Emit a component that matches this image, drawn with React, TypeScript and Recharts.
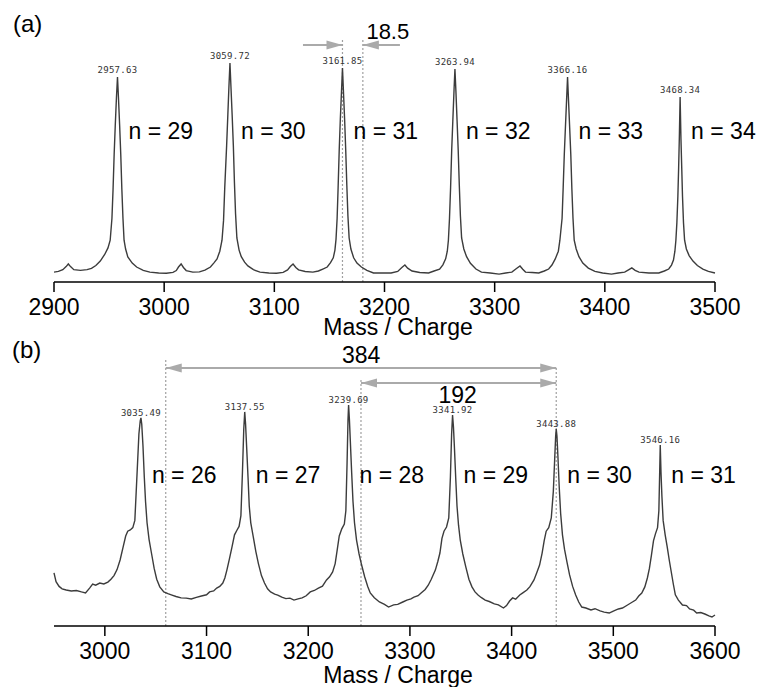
import { LineChart, Line, XAxis, YAxis, ReferenceLine, ReferenceDot } from "recharts";

const FONT = "'Liberation Sans', Arial, Helvetica, sans-serif";
const TRACE = "#3c3c3c";
const GUIDE = "#a0a0a0";
const ARROW = "#aaaaaa";

// (a) spectrum, mass/charge vs intensity
const topSpectrum: [number, number][] = [
  [2900, 4.5], [2904, 4.8], [2908, 5.6], [2911, 7.0], [2913, 8.2], [2915, 7.0], [2918, 5.6],
  [2924, 5.3], [2930, 5.6], [2934, 6.2], [2938, 7.5], [2942, 9.5], [2946, 12.5], [2949, 15.5],
  [2951, 19], [2952.6, 29], [2953.6, 42], [2954.6, 58], [2955.6, 71], [2956.7, 84], [2957.63, 93.2],
  [2958.5, 84], [2959.6, 71], [2960.6, 58], [2961.6, 42], [2962.6, 29], [2963.6, 19], [2965, 15],
  [2967, 11.4], [2971, 8.6], [2975, 6.8], [2981, 5.3], [2987, 4.5], [2995, 4.1], [3002, 4.0],
  [3008, 4.4], [3011, 5.2], [3013, 6.8], [3015.4, 8.2], [3017.5, 6.6], [3020, 5.2], [3026, 4.5],
  [3032, 4.6], [3037, 5.4], [3042, 6.8], [3045, 8.6], [3048, 10.5], [3050.5, 14], [3052.5, 19],
  [3053.9, 28], [3055, 43], [3056.7, 62], [3057.8, 76], [3058.8, 89], [3059.72, 99.5], [3060.6, 89],
  [3061.7, 76], [3062.8, 62], [3063.8, 45], [3064.8, 31], [3066, 20], [3068, 14.5], [3070, 11.5],
  [3073, 9], [3076, 7.3], [3081, 5.6], [3087, 4.5], [3095, 4.1], [3102, 4.0], [3108, 4.4],
  [3112, 5.5], [3114.5, 7.0], [3117, 8.2], [3119.5, 6.6], [3122, 5.5], [3128, 4.8], [3135, 4.5],
  [3140, 5.0], [3144, 5.9], [3148, 6.8], [3151, 8.8], [3153.5, 11], [3155, 14.5], [3156, 19.5],
  [3157, 29], [3157.9, 43], [3158.9, 60], [3159.9, 74], [3161, 87], [3161.85, 97.3], [3162.7, 87],
  [3163.8, 74], [3164.8, 60], [3165.8, 44], [3166.8, 30], [3167.9, 20], [3169.5, 15], [3172, 11],
  [3175, 8.6], [3179, 6.8], [3184, 5.3], [3190, 4.1], [3198, 4.1], [3206, 4.1], [3212, 4.8],
  [3215.5, 6.5], [3218.5, 7.7], [3221, 6.3], [3225, 5.0], [3232, 4.3], [3240, 4.1], [3245, 5.0],
  [3250, 5.8], [3253, 7.8], [3255.5, 10.5], [3257, 14], [3258, 19], [3259, 29], [3260, 43],
  [3261, 60], [3262, 73], [3263.1, 87], [3263.94, 96.8], [3264.8, 87], [3265.9, 73], [3266.9, 60],
  [3267.9, 44], [3268.9, 30], [3270, 20], [3272, 15], [3274.5, 11.5], [3278, 8.5], [3283, 5.9],
  [3288, 4.5], [3296, 4.1], [3304, 3.6], [3310, 4.1], [3315.6, 4.5], [3319.5, 6.0], [3323, 7.3],
  [3325.5, 5.8], [3328, 4.5], [3334, 4.3], [3340, 4.1], [3345, 5.0], [3349, 5.9], [3352, 7.7],
  [3355, 10.5], [3357.8, 14], [3359.2, 19], [3361.2, 29], [3362.2, 43], [3363.2, 58], [3364.2, 70],
  [3365.3, 83], [3366.16, 93.2], [3367, 83], [3368.1, 70], [3369.1, 58], [3370.1, 42], [3371.1, 29],
  [3372.2, 19], [3374, 15], [3376.5, 11.5], [3380, 8.6], [3385, 6.3], [3391, 4.8], [3398, 4.1],
  [3406, 3.6], [3412, 4.1], [3418, 4.5], [3421.5, 5.5], [3424.5, 6.4], [3427.5, 5.3], [3431, 4.5],
  [3440, 4.1], [3449, 4.1], [3454, 5.0], [3458, 5.9], [3460.5, 7.7], [3462.3, 10], [3463.6, 14],
  [3464.5, 19], [3465.4, 27], [3466.3, 39], [3467, 52], [3467.6, 65], [3468.34, 84.1], [3469.1, 65],
  [3469.8, 52], [3470.5, 39], [3471.4, 27], [3472.4, 19], [3474, 15], [3476.5, 12], [3480, 9.5],
  [3484, 7.5], [3489, 5.9], [3494, 4.8], [3500, 4.1],
];
const topPeaks = [2957.63, 3059.72, 3161.85, 3263.94, 3366.16, 3468.34];
const topPeakHeights = [93.2, 99.5, 97.3, 96.8, 93.2, 84.1];
const topCharges = [29, 30, 31, 32, 33, 34];
const topTicks = [2900, 3000, 3100, 3200, 3300, 3400, 3500];

// (b) spectrum
const bottomSpectrum: [number, number][] = [
  [2950, 22.1], [2952, 18.5], [2955, 16.5], [2958, 15.5], [2962, 15], [2967, 14.6], [2972, 14.8],
  [2977, 14.2], [2981, 13.8], [2985, 15.8], [2988, 17.5], [2991, 17.0], [2995, 17.9], [2999, 17.5],
  [3003, 18.3], [3006, 19.5], [3009, 21], [3012, 23.5], [3015, 27.5], [3018, 33], [3020.5, 37.5],
  [3022.5, 39.5], [3025, 40], [3027.5, 41], [3029.5, 44], [3031.5, 62], [3033.5, 80], [3034.8, 85.5],
  [3035.49, 86.7], [3036.3, 84], [3037.5, 75], [3038.8, 62], [3040, 52], [3041.5, 43], [3043.5, 36],
  [3046, 30], [3048.5, 24], [3051, 19.5], [3054, 16.3], [3058, 14.2], [3062, 13.5], [3066, 12.9],
  [3070, 12.3], [3075, 11.7], [3080, 11.6], [3085, 11.25], [3090, 11.9], [3095, 12.5], [3100, 13],
  [3103, 14.2], [3107, 14.6], [3110, 15.8], [3113, 16.5], [3116, 17.9], [3118, 20], [3120, 23.3],
  [3122.5, 28], [3125, 32.9], [3127.5, 38], [3130, 40], [3132, 41.5], [3133.8, 46], [3135.3, 64],
  [3136.6, 82], [3137.55, 89.2], [3138.4, 84], [3139.5, 74], [3140.8, 62], [3142, 50], [3143.5, 43],
  [3146, 37], [3148.5, 31], [3151, 26], [3154, 21], [3157, 17.9], [3160, 15.5], [3163, 14.2],
  [3167, 13.3], [3170, 12.9], [3174, 12], [3178, 11.4], [3182, 11.6], [3186, 10.8], [3190, 11.3],
  [3194, 11.7], [3198, 12.6], [3202, 14.2], [3206, 14.8], [3210, 15.8], [3214, 16.6], [3218, 19.2],
  [3221, 20.5], [3224, 22.5], [3226.5, 26], [3228.5, 31.7], [3230.5, 37.5], [3233, 40.5],
  [3235.5, 42.5], [3237, 48], [3238.2, 68], [3239.1, 85.8], [3239.69, 92.1], [3240.5, 86],
  [3241.5, 76], [3242.7, 64], [3244, 52], [3245.5, 43], [3247.5, 35.8], [3250, 30], [3252.5, 25.4],
  [3255.5, 20.5], [3258.5, 16.5], [3261, 13.75], [3265, 11.8], [3270, 10], [3275, 9], [3279, 7.9],
  [3284, 8.8], [3288, 9], [3293, 10], [3297, 10.8], [3301, 11.3], [3304, 12], [3308, 12.6],
  [3311, 13.75], [3315, 15.2], [3318, 17], [3321, 19.5], [3325, 23.3], [3327.5, 27], [3329.5, 30.4],
  [3331.5, 36.5], [3333.5, 39.5], [3336, 41.25], [3338.2, 45], [3339.8, 62], [3341, 80],
  [3341.92, 87.9], [3342.8, 83], [3343.8, 74], [3345, 62], [3346.3, 50], [3347.8, 42], [3349.5, 35.8],
  [3352, 30], [3355, 24.5], [3358, 19.5], [3361, 16.3], [3364, 14.2], [3367, 12.9], [3370, 11.9],
  [3374, 10.8], [3378, 10.2], [3383, 9.2], [3387, 8.8], [3392, 7.5], [3395, 8.5], [3398, 10.4],
  [3401, 11.7], [3404, 11.2], [3408, 12.9], [3411, 13.8], [3415, 15], [3418, 16.4], [3422, 19.2],
  [3425, 22.5], [3427.5, 25.4], [3430, 30.4], [3432, 35.5], [3434, 39.5], [3436.5, 41], [3439, 45],
  [3441, 56], [3442.4, 70], [3443.3, 79], [3443.88, 82.1], [3444.6, 79], [3445.6, 70], [3446.8, 58],
  [3448.2, 47], [3450, 38], [3452, 32], [3454.5, 26.5], [3457, 21.3], [3460, 16.5], [3463, 12.9],
  [3466, 10], [3469, 7.9], [3473, 7.5], [3478, 6.7], [3482, 7.2], [3487, 6.3], [3491, 5.8],
  [3496, 5.4], [3500, 6.2], [3505, 7.1], [3509, 7.5], [3514, 8.75], [3518, 9.8], [3522, 10.8],
  [3525, 12.5], [3528, 13.75], [3531, 16.3], [3533.5, 20], [3535.5, 24], [3537.5, 29.5],
  [3539.5, 35.5], [3541.5, 38.5], [3543.5, 41], [3544.8, 48], [3545.5, 62], [3546.16, 75.4],
  [3546.9, 64], [3547.8, 54], [3549, 44], [3551, 38], [3553, 33], [3555, 27.5], [3557, 22.5],
  [3559, 17.5], [3561, 13], [3564, 10.8], [3568, 8.75], [3572, 8.5], [3575, 7.1], [3579, 6.6],
  [3582, 5.4], [3586, 5.6], [3590, 5.0], [3594, 4.2], [3597, 3.75], [3600, 4.6],
];
const bottomPeaks = [3035.49, 3137.55, 3239.69, 3341.92, 3443.88, 3546.16];
const bottomPeakHeights = [86.7, 89.2, 92.1, 87.9, 82.1, 75.4];
const bottomCharges = [26, 27, 28, 29, 30, 31];
const bottomTicks = [3000, 3100, 3200, 3300, 3400, 3500, 3600];

const toRows = (pts: [number, number][]) => pts.map(([mz, v]) => ({ mz, v }));

// text drawn at a reference dot, with a pixel nudge
const textLabel =
  (text: string, opts: { dx?: number; dy?: number; size?: number; anchor?: string; mono?: boolean }) =>
  (props: any) => {
    const vb = props.viewBox || {};
    return (
      <text
        x={(vb.x ?? 0) + (opts.dx ?? 0)}
        y={(vb.y ?? 0) + (opts.dy ?? 0)}
        textAnchor={opts.anchor ?? "start"}
        fontSize={opts.size ?? 23}
        fontFamily={opts.mono ? "'DejaVu Sans Mono', monospace" : FONT}
        letterSpacing={opts.mono ? 0.3 : 0}
        fill={opts.mono ? "#333" : "#000"}
      >
        {text}
      </text>
    );
  };

const arrowHead = (x: number, y: number, dir: number) => {
  const b = x - dir * 16;
  return <polygon points={`${x},${y} ${b},${y - 4.5} ${b},${y + 4.5}`} fill={ARROW} />;
};

const arrowShape = (both: boolean) => (p: any) => {
  const { x1, y1, x2, y2 } = p;
  const dir = x2 > x1 ? 1 : -1;
  return (
    <g>
      <line x1={x1} y1={y1} x2={x2} y2={y2} stroke={ARROW} strokeWidth={2} />
      {arrowHead(x2, y2, dir)}
      {both && arrowHead(x1, y1, -dir)}
    </g>
  );
};

// axis title sits a fixed distance below the axis line
const axisTitle = (props: any) => {
  const vb = props.viewBox;
  return (
    <text
      x={vb.x + vb.width / 2 + 13.5}
      y={vb.y + 53}
      textAnchor="middle"
      fontSize={23}
      fontFamily={FONT}
      fill="#000"
    >
      Mass / Charge
    </text>
  );
};

const tickStyle = { fill: "#000", fontSize: 23, fontFamily: FONT };

export default function App() {
  return (
    <div
      style={{
        position: "absolute",
        left: 0,
        top: 0,
        width: 762,
        height: 687,
        background: "#fff",
        fontFamily: FONT,
        overflow: "hidden",
      }}
    >
      <div style={{ position: "absolute", left: 13, top: 12, fontSize: 24, lineHeight: 1 }}>(a)</div>
      <div style={{ position: "absolute", left: 12, top: 338, fontSize: 24, lineHeight: 1 }}>(b)</div>

      <div style={{ position: "absolute", left: 0, top: 0 }}>
        <LineChart
          width={762}
          height={346}
          data={toRows(topSpectrum)}
          margin={{ top: 18, right: 47, bottom: 0, left: 54 }}
        >
          <XAxis
            dataKey="mz"
            type="number"
            domain={[2900, 3500]}
            ticks={topTicks}
            height={64}
            tickSize={10}
            tickMargin={7}
            tick={tickStyle}
            axisLine={{ stroke: "#000", strokeWidth: 1.5 }}
            tickLine={{ stroke: "#000", strokeWidth: 1.5 }}
            label={axisTitle}
          />
          <YAxis hide width={0} type="number" domain={[0, 120]} />
          <ReferenceLine
            segment={[{ x: 3161.85, y: 0 }, { x: 3161.85, y: 110.9 }]}
            stroke={GUIDE}
            strokeDasharray="2 2"
            strokeWidth={1.2}
          />
          <ReferenceLine
            segment={[{ x: 3180.35, y: 0 }, { x: 3180.35, y: 110.9 }]}
            stroke={GUIDE}
            strokeDasharray="2 2"
            strokeWidth={1.2}
          />
          <ReferenceLine segment={[{ x: 3126, y: 107.7 }, { x: 3161.85, y: 107.7 }]} shape={arrowShape(false)} />
          <ReferenceLine segment={[{ x: 3214, y: 107.7 }, { x: 3180.35, y: 107.7 }]} shape={arrowShape(false)} />
          <ReferenceDot x={3203} y={110.5} r={0} fill="none" stroke="none" label={textLabel("18.5", { anchor: "middle", size: 22 })} />
          <Line
            dataKey="v"
            type="linear"
            stroke={TRACE}
            strokeWidth={1.4}
            dot={false}
            isAnimationActive={false}
          />
          {topPeaks.map((p, i) => (
            <ReferenceDot
              key={`tp${p}`}
              x={p}
              y={topPeakHeights[i]}
              r={0}
              fill="none"
              stroke="none"
              label={textLabel(p.toFixed(2), { anchor: "middle", dy: -4, size: 9, mono: true })}
            />
          ))}
          {topPeaks.map((p, i) => (
            <ReferenceDot
              key={`tn${p}`}
              x={p}
              y={65}
              r={0}
              fill="none"
              stroke="none"
              label={textLabel(`n = ${topCharges[i]}`, { dx: 11 })}
            />
          ))}
        </LineChart>
      </div>

      <div style={{ position: "absolute", left: 0, top: 330 }}>
        <LineChart
          width={762}
          height={357}
          data={toRows(bottomSpectrum)}
          margin={{ top: 20, right: 47, bottom: 0, left: 54 }}
        >
          <XAxis
            dataKey="mz"
            type="number"
            domain={[2950, 3600]}
            ticks={bottomTicks}
            height={61}
            tickSize={10}
            tickMargin={7}
            tick={tickStyle}
            axisLine={{ stroke: "#000", strokeWidth: 1.5 }}
            tickLine={{ stroke: "#000", strokeWidth: 1.5 }}
            label={(props: any) => axisTitle({ viewBox: { ...props.viewBox, y: props.viewBox.y + 4 } })}
          />
          <YAxis hide width={0} type="number" domain={[0, 115]} />
          <ReferenceLine
            segment={[{ x: 3059.88, y: 0 }, { x: 3059.88, y: 110.8 }]}
            stroke={GUIDE}
            strokeDasharray="2 2"
            strokeWidth={1.2}
          />
          <ReferenceLine
            segment={[{ x: 3251.88, y: 0 }, { x: 3251.88, y: 102.5 }]}
            stroke={GUIDE}
            strokeDasharray="2 2"
            strokeWidth={1.2}
          />
          <ReferenceLine
            segment={[{ x: 3443.88, y: 0 }, { x: 3443.88, y: 107.9 }]}
            stroke={GUIDE}
            strokeDasharray="2 2"
            strokeWidth={1.2}
          />
          <ReferenceLine segment={[{ x: 3059.88, y: 107.5 }, { x: 3443.88, y: 107.5 }]} shape={arrowShape(true)} />
          <ReferenceLine segment={[{ x: 3251.88, y: 101.25 }, { x: 3443.88, y: 101.25 }]} shape={arrowShape(true)} />
          <ReferenceDot x={3252} y={109.6} r={0} fill="none" stroke="none" label={textLabel("384", { anchor: "middle" })} />
          <ReferenceDot x={3347} y={93} r={0} fill="none" stroke="none" label={textLabel("192", { anchor: "middle" })} />
          <Line
            dataKey="v"
            type="linear"
            stroke={TRACE}
            strokeWidth={1.4}
            dot={false}
            isAnimationActive={false}
          />
          {bottomPeaks.map((p, i) => (
            <ReferenceDot
              key={`bp${p}`}
              x={p}
              y={bottomPeakHeights[i]}
              r={0}
              fill="none"
              stroke="none"
              label={textLabel(p.toFixed(2), { anchor: "middle", dy: -2, size: 9, mono: true })}
            />
          ))}
          {bottomPeaks.map((p, i) => (
            <ReferenceDot
              key={`bn${p}`}
              x={p}
              y={59.6}
              r={0}
              fill="none"
              stroke="none"
              label={textLabel(`n = ${bottomCharges[i]}`, { dx: 11 })}
            />
          ))}
        </LineChart>
      </div>
    </div>
  );
}
